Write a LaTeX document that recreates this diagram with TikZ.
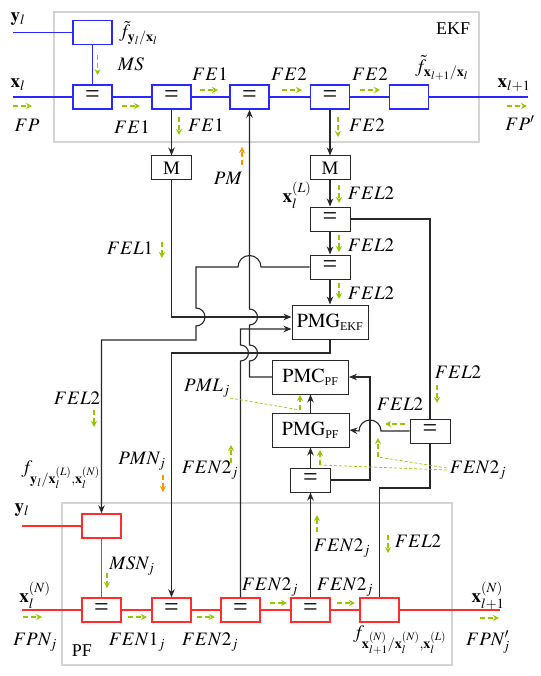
\documentclass[tikz,border=0pt]{standalone}
\usepackage{mathptmx}
\usepackage[no-math]{fontspec}
\setmainfont{Liberation Serif}
\usetikzlibrary{arrows.meta,calc}
\definecolor{eblue}{RGB}{40,40,255}
\definecolor{pred}{RGB}{255,45,45}
\definecolor{grn}{RGB}{150,200,0}
\definecolor{org}{RGB}{255,150,0}
\definecolor{frm}{RGB}{212,212,212}
\definecolor{ink}{RGB}{40,40,40}
\newcommand{\subsm}[1]{\mbox{\fontsize{12}{12}\selectfont #1}}
\tikzset{
  ebox/.style={draw=eblue,line width=1.4pt,fill=white,minimum width=39pt,minimum height=24pt,inner sep=0pt},
  pbox/.style={draw=pred,line width=1.4pt,fill=white,minimum width=39pt,minimum height=24pt,inner sep=0pt},
  kbox/.style={draw=ink,line width=1pt,fill=white,minimum width=39pt,minimum height=24pt,inner sep=0pt},
  bigbox/.style={draw=ink,line width=1pt,fill=white,minimum width=76pt,minimum height=34pt,inner sep=0pt,font=\fontsize{20}{22}\selectfont},
  eqtxt/.style={font=\fontsize{26}{26}\selectfont},
  lbl/.style={inner sep=0pt,font=\fontsize{19}{21}\selectfont},
  wire/.style={draw=ink,line width=1.1pt},
  arr/.style={wire,-{Stealth[length=8pt,width=6.5pt]}},
  gar/.style={draw=grn,line width=1.3pt,dash pattern=on 5pt off 3pt,-{Stealth[length=6pt,width=6pt]}},
  oar/.style={gar,draw=org},
  glink/.style={draw=grn,line width=0.7pt,dash pattern=on 3pt off 2pt},
  frame/.style={draw=frm,line width=2.5pt},
  eline/.style={draw=eblue,line width=1.3pt},
  pline/.style={draw=pred,line width=1.3pt},
}
\begin{document}
\begin{tikzpicture}[x=1pt,y=-1pt]
\useasboundingbox (0,0) rectangle (540,676);
% frames
\draw[frame] (54,12) rectangle (479,142);
\draw[frame] (62,503) rectangle (452,665);
\node[lbl,font=\fontsize{18}{20}\selectfont] (ekf) at (453,29) {EKF};
\node[lbl,font=\fontsize{18}{20}\selectfont] (pf) at (82,651) {PF};

% EKF row
\coordinate (yE) at (13,32.5);
\coordinate (xE) at (13,97);
\coordinate (xE2) at (528,97);
\node[ebox] (lkE) at (92.5,32.5) {};
\node[ebox,eqtxt] (e1) at (92.5,97) {=};
\node[ebox,eqtxt] (e2) at (171.5,97) {=};
\node[ebox,eqtxt] (e3) at (249.5,97) {=};
\node[ebox,eqtxt] (e4) at (330,97) {=};
\node[ebox] (trE) at (409,97) {};
\draw[eline] (yE) -- (lkE);
\draw[eline] (lkE) -- (e1);
\draw[eline] (xE) -- (e1) -- (e2) -- (e3) -- (e4) -- (trE) -- (xE2);

% middle boxes
\node[kbox,minimum width=40pt,font=\fontsize{19}{21}\selectfont] (M1) at (171.5,168) {M};
\node[kbox,minimum width=40pt,font=\fontsize{19}{21}\selectfont] (M2) at (330,168) {M};
\node[kbox,minimum width=40pt,eqtxt] (c1) at (330,219) {=};
\node[kbox,minimum width=40pt,eqtxt] (c2) at (330,267) {=};
\node[bigbox] (pmgE) at (330,322) {$\mathrm{PMG}_{\subsm{EKF}}$};
\node[bigbox] (pmcP) at (310.5,377) {$\mathrm{PMC}_{\subsm{PF}}$};
\node[bigbox,minimum width=77pt] (pmgP) at (310.5,430) {$\mathrm{PMG}_{\subsm{PF}}$};
\node[kbox,minimum width=40pt,eqtxt] (c3) at (310.5,480) {=};
\node[kbox,minimum width=40pt,eqtxt] (cR) at (430,431) {=};

% PF row
\coordinate (yP) at (22,526);
\coordinate (xP) at (22,610);
\coordinate (xP2) at (500,610);
\node[pbox] (lkP) at (101.5,526) {};
\node[pbox,eqtxt] (p1) at (101.5,610) {=};
\node[pbox,eqtxt] (p2) at (171.5,610) {=};
\node[pbox,eqtxt] (p3) at (240.5,610) {=};
\node[pbox,eqtxt] (p4) at (310.5,610) {=};
\node[pbox] (trP) at (379.5,610) {};
\draw[pline] (yP) -- (lkP);
\draw[pline] (lkP) -- (p1);
\draw[pline] (xP) -- (p1) -- (p2) -- (p3) -- (p4) -- (trP) -- (xP2);

% black connectors
\draw[arr] (e2) -- (M1);
\draw[arr] (e4) -- (M2);
\draw[arr] (M2) -- (c1);
\draw[arr] (c1) -- (c2);
\draw[arr] (c2) -- (pmgE);
\draw[arr] (M1.south) |- ($(pmgE.west)+(0,-5)$);
\draw[arr] (c2.west) -- (261,267) arc[start angle=0,end angle=-180,radius=11.5] -- (196,267) -- (196,308) arc[start angle=-90,end angle=90,radius=9] -- (196,340) -- (101.5,340) -- (lkP.north);
\draw[arr] (p3.north) -- (240.5,361) arc[start angle=90,end angle=-90,radius=8] -- (240.5,329) -- ($(pmgE.west)+(0,7)$);
\draw[arr] (pmcP.west) -- (249.5,377) -- (249.5,361) arc[start angle=90,end angle=-90,radius=8] -- (249.5,325) arc[start angle=90,end angle=-90,radius=8] -- (e3.south);
\draw[arr] (pmgE.south) -- (330,353) -- (171.5,353) -- (p2.north);
\draw[wire] (c1.east) -| (cR.north);
\draw[wire] (cR.south) -- (430,488) -- (379.5,488) -- (trP.north);
\draw[arr] (cR.west) -- (381,431) arc[start angle=0,end angle=-180,radius=11] -- (pmgP.east);
\draw[arr] (c3.east) -- (370,480) -- (370,377) -- (pmcP.east);
\draw[arr] (c3) -- (pmgP);
\draw[arr] (pmgP) -- (pmcP);
\draw[arr] (p4) -- (c3);

% green / orange message arrows
\draw[gar] (97.5,55) -- (97.5,75);
\draw[gar] (13,106) -- (32,106);
\draw[gar] (122,106) -- (140,106);
\draw[gar] (179,117) -- (179,135);
\draw[gar] (200,90) -- (218,90);
\draw[gar] (282,90) -- (302,90);
\draw[gar] (360,90) -- (380,90);
\draw[gar] (338,117) -- (338,137);
\draw[gar] (507,106) -- (527,106);
\draw[oar] (242,165) -- (242,147);
\draw[gar] (162,242) -- (162,258);
\draw[gar] (339,185) -- (339,203);
\draw[gar] (339,235) -- (339,252);
\draw[gar] (339,283) -- (339,299);
\draw[gar] (94,410) -- (94,427);
\draw[oar] (163,475) -- (163,492);
\draw[gar] (231,463) -- (231,445);
\draw[gar] (437,385) -- (437,403);
\draw[gar] (405,424) -- (385,424);
\draw[glink] (230,398) -- (300,410);
\draw[gar] (300,410) -- (300,395);
\draw[glink] (447,468) -- (378,457);
\draw[gar] (378,457) -- (378,438);
\draw[glink] (447,470) -- (320,465);
\draw[gar] (320,465) -- (320,450);
\draw[gar] (107,573) -- (107,588);
\draw[gar] (23,617) -- (42,617);
\draw[gar] (128,617) -- (147,617);
\draw[gar] (197,617) -- (215,617);
\draw[gar] (270,603) -- (287,603);
\draw[gar] (337,603) -- (355,603);
\draw[gar] (317,532) -- (317,515);
\draw[gar] (388,535) -- (388,553);
\draw[gar] (480,618) -- (499,618);

% labels EKF
\node[lbl] (lyE) at (18,19) {$\mathbf{y}_l$};
\node[lbl] (lxE) at (18,85) {$\mathbf{x}_l$};
\node[lbl,anchor=west] (lfy) at (119,33) {$\tilde{f}_{\mathbf{y}_l/\mathbf{x}_l}$};
\node[lbl] (lMS) at (131,64) {$MS$};
\node[lbl] (lFP) at (27,125) {$FP$};
\node[lbl] (lFE1a) at (132,127) {$FE1$};
\node[lbl] (lFE1b) at (206,125) {$FE1$};
\node[lbl] (lFE1c) at (210,74) {$FE1$};
\node[lbl] (lFE2a) at (289,74) {$FE2$};
\node[lbl] (lFE2b) at (370,74) {$FE2$};
\node[lbl] (lftr) at (442,68) {$\tilde{f}_{\mathbf{x}_{l+1}/\mathbf{x}_l}$};
\node[lbl] (lFE2c) at (367,125) {$FE2$};
\node[lbl] (lxE2) at (514,85) {$\mathbf{x}_{l+1}$};
\node[lbl] (lFPp) at (520,123) {$FP'$};

% labels middle
\node[lbl] (lPM) at (228,178) {$PM$};
\node[lbl] (lxL) at (297,195) {$\mathbf{x}_l^{(L)}$};
\node[lbl] (lFEL2a) at (371,193) {$FEL2$};
\node[lbl] (lFEL2b) at (371,245) {$FEL2$};
\node[lbl] (lFEL2c) at (371,293) {$FEL2$};
\node[lbl] (lFEL1) at (130,248) {$FEL1$};
\node[lbl] (lFEL2d) at (77,398) {$FEL2$};
\node[lbl] (lfyN) at (61,475) {$f_{\mathbf{y}_l/\mathbf{x}_l^{(L)},\mathbf{x}_l^{(N)}}$};
\node[lbl] (lPMN) at (142,461) {$PMN_j$};
\node[lbl] (lFEN2a) at (210,470) {$FEN2_j$};
\node[lbl] (lPML) at (207,388) {$PML_j$};
\node[lbl] (lFEL2e) at (458,372) {$FEL2$};
\node[lbl] (lFEL2f) at (400,404) {$FEL2$};
\node[lbl] (lFEN2b) at (478,470) {$FEN2_j$};

% labels PF
\node[lbl] (lyP) at (22,510) {$\mathbf{y}_l$};
\node[lbl] (lxP) at (35,595) {$\mathbf{x}_l^{(N)}$};
\node[lbl] (lFPN) at (35,642) {$FPN_j$};
\node[lbl] (lMSN) at (132,566) {$MSN_j$};
\node[lbl] (lFEN1) at (137,642) {$FEN1_j$};
\node[lbl] (lFEN2c) at (210,642) {$FEN2_j$};
\node[lbl] (lFEN2d) at (270,587) {$FEN2_j$};
\node[lbl] (lFEN2e) at (345,587) {$FEN2_j$};
\node[lbl] (lFEN2f) at (342,548) {$FEN2_j$};
\node[lbl] (lFEL2g) at (418,541) {$FEL2$};
\node[lbl] (lftrP) at (400,640) {$f_{\mathbf{x}_{l+1}^{(N)}/\mathbf{x}_l^{(N)},\mathbf{x}_l^{(L)}}$};
\node[lbl] (lxP2) at (488,596) {$\mathbf{x}_{l+1}^{(N)}$};
\node[lbl] (lFPNp) at (488,642) {$FPN'_j$};
\end{tikzpicture}
\end{document}
